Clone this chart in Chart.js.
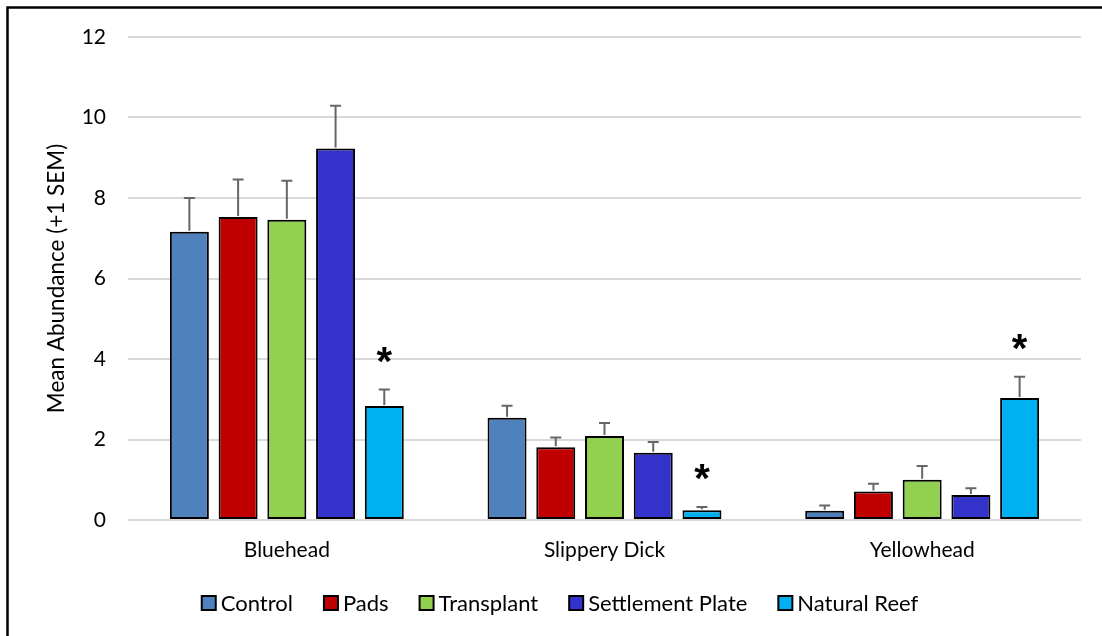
<!DOCTYPE html>
<html>
<head>
<meta charset="utf-8">
<script src="https://cdn.jsdelivr.net/npm/chart.js@4.4.1/dist/chart.umd.min.js"></script>
<style>
  html, body { margin: 0; padding: 0; background: #ffffff; }
  #wrap { width: 1102px; height: 636px; position: relative; }
</style>
</head>
<body>
<div id="wrap"><canvas id="chart" width="1102" height="636"></canvas></div>
<script>
// Fish species (x categories)
const species = ['Bluehead', 'Slippery Dick', 'Yellowhead'];

// Mean abundance per treatment
const control     = [7.16, 2.54, 0.23];
const pads        = [7.53, 1.81, 0.71];
const transplant  = [7.46, 2.09, 1.00];
const settlement  = [9.23, 1.67, 0.62];
const naturalReef = [2.83, 0.24, 3.03];

// Standard error of the mean for each treatment
const controlSem     = [0.84, 0.30, 0.13];
const padsSem        = [0.93, 0.24, 0.19];
const transplantSem  = [0.97, 0.32, 0.34];
const settlementSem  = [1.06, 0.27, 0.17];
const naturalReefSem = [0.41, 0.08, 0.53];

// Significant differences flagged with an asterisk (Natural Reef)
const naturalReefSig = [true, true, true];

// Y axis ticks and title
const yTicks = [0, 2, 4, 6, 8, 10, 12];
const yTitle = 'Mean Abundance (+1 SEM)';

const FONT = "'Lato', 'Liberation Sans', sans-serif";

const series = [
  { label: 'Control',          data: control,     sem: controlSem,     color: '#4F81BD' },
  { label: 'Pads',             data: pads,        sem: padsSem,        color: '#C00000' },
  { label: 'Transplant',       data: transplant,  sem: transplantSem,  color: '#92D050' },
  { label: 'Settlement Plate', data: settlement,  sem: settlementSem,  color: '#3333CC' },
  { label: 'Natural Reef',     data: naturalReef, sem: naturalReefSem, color: '#00B0F0', sig: naturalReefSig }
];

// Outer frame (top and left edges)
const framePlugin = {
  id: 'frame',
  beforeDraw(chart) {
    const ctx = chart.ctx;
    ctx.save();
    ctx.fillStyle = '#ffffff';
    ctx.fillRect(0, 0, chart.width, chart.height);
    ctx.strokeStyle = '#000000';
    ctx.lineWidth = 2.5;
    ctx.beginPath();
    ctx.moveTo(chart.width, 7.5);
    ctx.lineTo(7.5, 7.5);
    ctx.lineTo(7.5, chart.height);
    ctx.stroke();
    ctx.restore();
  }
};

// +1 SEM error bars and significance asterisks
const errorBarPlugin = {
  id: 'errorBars',
  afterDatasetsDraw(chart) {
    const ctx = chart.ctx;
    const yScale = chart.scales.y;
    ctx.save();
    chart.data.datasets.forEach((ds, di) => {
      const meta = chart.getDatasetMeta(di);
      meta.data.forEach((bar, i) => {
        const v = ds.data[i];
        const s = ds.sem[i];
        const yTop = yScale.getPixelForValue(v + s);
        const yBar = yScale.getPixelForValue(v);
        const x = bar.x;
        ctx.strokeStyle = '#666666';
        ctx.lineWidth = 2;
        ctx.beginPath();
        ctx.moveTo(x, yBar - 1);
        ctx.lineTo(x, yTop);
        ctx.moveTo(x - 5.5, yTop);
        ctx.lineTo(x + 5.5, yTop);
        ctx.stroke();
        if (ds.sig && ds.sig[i]) {
          ctx.fillStyle = '#000000';
          ctx.font = "bold 40px 'Liberation Sans', sans-serif";
          ctx.textAlign = 'center';
          ctx.textBaseline = 'middle';
          ctx.fillText('*', x, yTop - 26);
        }
      });
    });
    ctx.restore();
  }
};

// Rotated y axis title, centred on the plot area
const yTitlePlugin = {
  id: 'yTitle',
  afterDraw(chart) {
    const ctx = chart.ctx;
    const area = chart.chartArea;
    ctx.save();
    ctx.translate(57, (area.top + area.bottom) / 2);
    ctx.rotate(-Math.PI / 2);
    ctx.font = "22.5px " + FONT;
    ctx.fillStyle = '#000000';
    ctx.textAlign = 'center';
    ctx.textBaseline = 'middle';
    ctx.fillText(yTitle, 0, 0);
    ctx.restore();
  }
};

// Legend row below the category labels
const legendPlugin = {
  id: 'legendRow',
  afterDraw(chart) {
    const ctx = chart.ctx;
    const box = 14, textGap = 5, itemGap = 31, centerX = 560, rowY = 603;
    ctx.save();
    ctx.font = "22px " + FONT;
    const items = chart.data.datasets.map(ds => ({
      label: ds.label, color: ds.backgroundColor, w: ctx.measureText(ds.label).width
    }));
    const total = items.reduce((a, it) => a + box + textGap + it.w, 0) + itemGap * (items.length - 1);
    let x = centerX - total / 2;
    ctx.textBaseline = 'middle';
    ctx.textAlign = 'left';
    items.forEach(it => {
      ctx.fillStyle = it.color;
      ctx.fillRect(x, rowY - box / 2, box, box);
      ctx.strokeStyle = '#000000';
      ctx.lineWidth = 2;
      ctx.strokeRect(x, rowY - box / 2, box, box);
      ctx.fillStyle = '#000000';
      ctx.fillText(it.label, x + box + textGap, rowY + 1);
      x += box + textGap + it.w + itemGap;
    });
    ctx.restore();
  }
};

new Chart(document.getElementById('chart'), {
  type: 'bar',
  data: {
    labels: species,
    datasets: series.map(s => ({
      label: s.label,
      data: s.data,
      sem: s.sem,
      sig: s.sig,
      backgroundColor: s.color,
      borderColor: '#000000',
      borderWidth: 2,
      borderSkipped: false,
      categoryPercentage: 0.767,
      barPercentage: 0.80
    }))
  },
  options: {
    responsive: false,
    animation: false,
    devicePixelRatio: 1,
    layout: { padding: { top: 37, right: 21, left: 0, bottom: 55 } },
    plugins: {
      legend: { display: false },
      tooltip: { enabled: false }
    },
    scales: {
      x: {
        grid: { display: false, drawTicks: false },
        border: { display: false },
        ticks: { font: { family: FONT, size: 21 }, color: '#000000', padding: 18 },
        afterFit(scale) { scale.height = 61; }
      },
      y: {
        min: 0,
        max: 12,
        afterBuildTicks(scale) { scale.ticks = yTicks.map(v => ({ value: v })); },
        grid: { color: '#d9d9d9', lineWidth: 2, drawTicks: false },
        border: { display: false },
        ticks: { font: { family: FONT, size: 21 }, color: '#000000', padding: 22 },
        title: { display: false },
        afterFit(scale) { scale.width = 128; }
      }
    }
  },
  plugins: [framePlugin, errorBarPlugin, yTitlePlugin, legendPlugin]
});
</script>
</body>
</html>
